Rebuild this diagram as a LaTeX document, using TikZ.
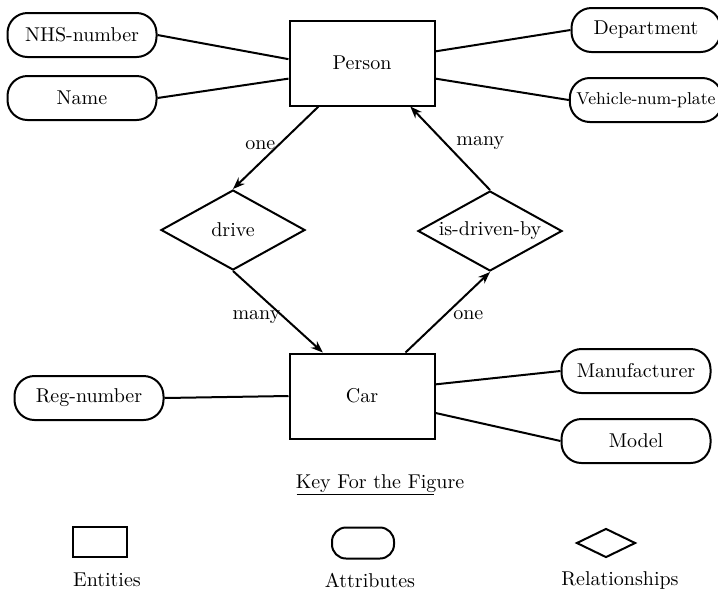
\documentclass[tikz,border=0pt]{standalone}
\usepackage{tikz}
\usetikzlibrary{shapes.geometric, arrows.meta}
\tikzstyle{entity} = [draw, rectangle, minimum width=72.5pt, minimum height=42.5pt, line width=1pt]
\tikzstyle{attrib} = [draw, rectangle, rounded corners=10pt, minimum width=74.5pt, minimum height=22pt, line width=1pt]
\tikzstyle{relation} = [draw, diamond, aspect=1.8, inner sep=0pt, minimum width=72pt, minimum height=40pt, line width=1pt]
\tikzstyle{link} = [line width=1pt]
\tikzstyle{arrow} = [line width=1pt,-{Stealth[length=6pt,width=4.5pt]}]
\tikzstyle{card} = [inner sep=1pt]

\begin{document}
\begin{tikzpicture}[x=0.5pt,y=-0.5pt]
\useasboundingbox (0,0) rectangle (718,591);

% entities
\node[entity] (person) at (362,63) {Person};
\node[entity] (car) at (362,396) {Car};

% attributes of person
\node[attrib] (nhs) at (82,35) {NHS-number};
\node[attrib] (name) at (82,98) {Name};
\node[attrib] (dept) at (646,30) {Department};
\node[attrib] (plate) at (646,100) {\fontsize{8.6}{10}\selectfont Vehicle-num-plate};

% attributes of car
\node[attrib] (reg) at (89,398) {Reg-number};
\node[attrib] (manuf) at (636,371) {Manufacturer};
\node[attrib] (model) at (636,441) {Model};

% relationships
\node[relation] (drive) at (233,230) {drive};
\node[relation] (driven) at (490,231) {is-driven-by};

\draw[link] (nhs.east) -- (person.177);
\draw[link] (name.east) -- (person.192);
\draw[link] (dept.west) -- (person.9);
\draw[link] (plate.west) -- (person.-12);
\draw[link] (reg.east) -- (car.west);
\draw[link] (manuf.west) -- (car.9);
\draw[link] (model.west) -- (car.-13);

\draw[arrow] (person.225) -- node[card,pos=0.47,left] {one} (drive.north);
\draw[arrow] (drive.south) -- node[card,pos=0.56,left] {many} (car.132);
\draw[arrow] (car.45) -- node[card,pos=0.46,right=3pt] {one} (driven.south);
\draw[arrow] (driven.north) -- node[card,pos=0.56,right=4pt] {many} (person.-42);

% key
\node (keytitle) at (380,484) {Key For the Figure};
\draw[line width=0.6pt] ([yshift=-1pt]keytitle.base west) ++(4pt,-2pt) coordinate (ulstart) -- ++(68.5pt,0) coordinate (ulend);
\node[draw, rectangle, line width=1pt, minimum width=27pt, minimum height=15pt] (keyent) at (99.5,542) {};
\node[draw, rectangle, rounded corners=7pt, line width=1pt, minimum width=31pt, minimum height=15.5pt] (keyatt) at (363,543) {};
\node[draw, diamond, inner sep=0pt, line width=1pt, minimum width=29.5pt, minimum height=14.5pt] (keyrel) at (606,543) {};
\node (entlbl) at (107,580) {Entities};
\node (attlbl) at (370,580) {Attributes};
\node (rellbl) at (620,580) {Relationships};
\end{tikzpicture}
\end{document}
